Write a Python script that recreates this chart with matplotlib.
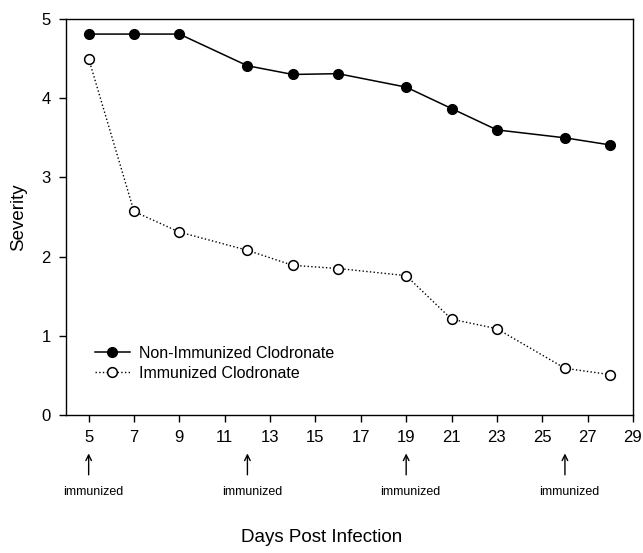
import matplotlib.pyplot as plt
from matplotlib import transforms

plt.rcParams['font.family'] = ['Liberation Sans', 'DejaVu Sans']

days = [5, 7, 9, 12, 14, 16, 19, 21, 23, 26, 28]
non_immunized = [4.81, 4.81, 4.81, 4.41, 4.30, 4.31, 4.14, 3.87, 3.60, 3.50, 3.41]
immunized = [4.50, 2.57, 2.31, 2.08, 1.89, 1.85, 1.76, 1.21, 1.09, 0.59, 0.51]
immunization_days = [5, 12, 19, 26]

fig = plt.figure(figsize=(6.43, 5.53), dpi=100)
ax = fig.add_axes([0.1026, 0.2495, 0.8818, 0.7161])

ax.plot(days, non_immunized, '-o', color='black', lw=1.1, ms=7,
        mfc='black', mec='black', label='Non-Immunized Clodronate')
ax.plot(days, immunized, ':o', color='black', lw=1.0, ms=7,
        mfc='white', mec='black', mew=1.1, label='Immunized Clodronate')

ax.set_xlim(4, 29)
ax.set_ylim(0, 5)
ax.set_xticks(range(5, 30, 2))
ax.set_yticks(range(0, 6))
ax.tick_params(direction='out', length=5, width=1, labelsize=12, pad=6)
for s in ax.spines.values():
    s.set_linewidth(1)
    s.set_color('black')

ax.set_ylabel('Severity', fontsize=13.5, labelpad=10)
fig.text(0.5, 0.02, 'Days Post Infection', ha='center', fontsize=13.5)

# arrows marking immunization days under the x axis
trans = transforms.blended_transform_factory(ax.transData, ax.transAxes)
for d in immunization_days:
    ax.annotate('', xy=(d, -0.090), xytext=(d, -0.158), xycoords=trans,
                textcoords=trans, annotation_clip=False,
                arrowprops=dict(arrowstyle='->', color='black', lw=1))
    ax.text(d + 0.2, -0.195, 'immunized', transform=trans, ha='center',
            va='center', fontsize=9, clip_on=False)

ax.legend(loc='lower left', bbox_to_anchor=(0.025, 0.05), frameon=False,
          fontsize=11.5, handlelength=2.2, handletextpad=0.6, labelspacing=0.3)

fig.savefig('out.png', dpi=100)
